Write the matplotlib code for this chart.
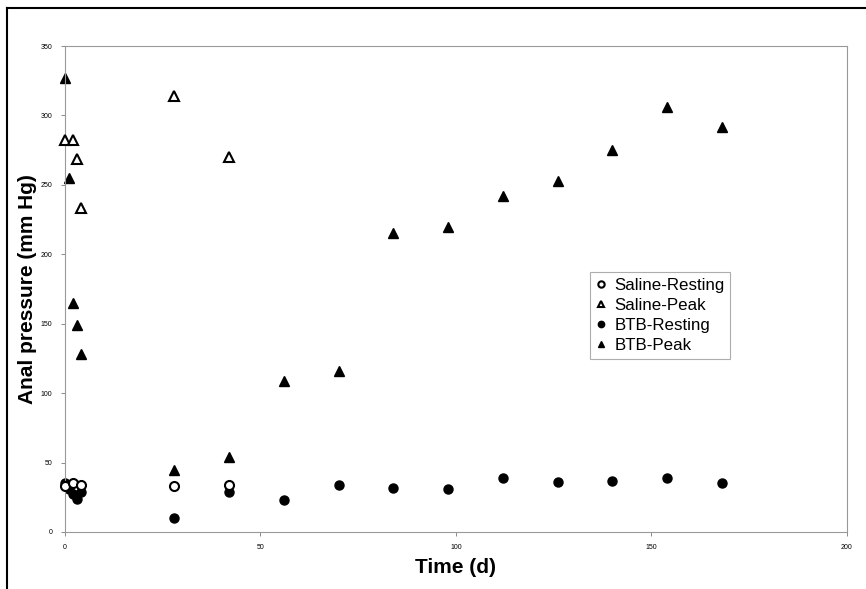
import matplotlib
matplotlib.use("Agg")
import matplotlib.pyplot as plt
from matplotlib.lines import Line2D

plt.rcParams['font.family'] = ['Liberation Sans', 'DejaVu Sans']

# Saline group
saline_rest_days = [0, 2, 4, 28, 42]
saline_rest_vals = [33, 35, 34, 33, 34]
saline_peak_days = [0, 2, 3, 4, 28, 42]
saline_peak_vals = [282, 282, 269, 233, 314, 270]

# BTB group
btb_rest_days = [0, 1, 2, 3, 4, 28, 42, 56, 70, 84, 98, 112, 126, 140, 154, 168]
btb_rest_vals = [35, 31, 27, 24, 29, 10, 29, 23, 34, 32, 31, 39, 36, 37, 39, 35]
btb_peak_days = [0, 1, 2, 3, 4, 28, 42, 56, 70, 84, 98, 112, 126, 140, 154, 168]
btb_peak_vals = [327, 255, 165, 149, 128, 45, 54, 109, 116, 215, 220, 242, 253, 275, 306, 292]

fig = plt.figure(figsize=(8.66, 5.89), dpi=100)
ax = fig.add_axes([0.075, 0.0968, 0.903, 0.825])

ms = 6.5
ax.plot(saline_rest_days, saline_rest_vals, 'o', mfc='white', mec='black', mew=1.5, ms=ms,
        label='Saline-Resting', zorder=3, clip_on=False)
ax.plot(saline_peak_days, saline_peak_vals, '^', mfc='white', mec='black', mew=1.5, ms=ms,
        label='Saline-Peak', zorder=3, clip_on=False)
ax.plot(btb_rest_days, btb_rest_vals, 'o', color='black', ms=ms, label='BTB-Resting',
        zorder=2, clip_on=False)
ax.plot(btb_peak_days, btb_peak_vals, '^', color='black', ms=ms, label='BTB-Peak',
        zorder=2, clip_on=False)

ax.set_xlim(0, 200)
ax.set_ylim(0, 350)
ax.set_xticks([0, 50, 100, 150, 200])
ax.set_yticks(range(0, 351, 50))
ax.tick_params(labelsize=5, length=3, width=0.6, color='#777777', pad=6)
for s in ax.spines.values():
    s.set_color('#999999')
    s.set_linewidth(0.8)

ax.set_xlabel('Time (d)', fontsize=15, fontweight='bold', labelpad=5)
ax.set_ylabel('Anal pressure (mm Hg)', fontsize=15, fontweight='bold', labelpad=3)

leg = ax.legend(loc='upper left', bbox_to_anchor=(0.671, 0.535), fontsize=12.2,
                frameon=True, fancybox=False, handlelength=0.6, handletextpad=0.5,
                borderpad=0.35, labelspacing=0.3, markerscale=0.7, borderaxespad=0)
leg.get_frame().set_edgecolor('#999999')
leg.get_frame().set_linewidth(0.8)

# outer frame of the figure (left and top)
fig.add_artist(Line2D([0.008, 0.008], [0, 0.987], color='black', lw=1.5, transform=fig.transFigure))
fig.add_artist(Line2D([0.008, 1.0], [0.987, 0.987], color='black', lw=1.5, transform=fig.transFigure))

fig.savefig('out.png', dpi=100)
